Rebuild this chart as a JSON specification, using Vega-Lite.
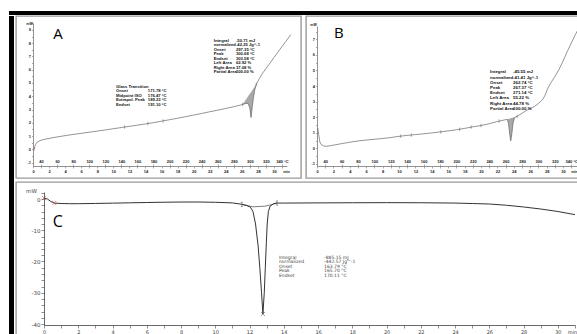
{
  "$schema": "https://vega.github.io/schema/vega-lite/v6.json",
  "padding": {"left": 9, "top": 11, "right": 0, "bottom": 0},
  "background": "white",
  "config": {
    "view": {"stroke": "#999", "strokeWidth": 1.4},
    "axis": {"grid": false, "labelFont": "Liberation Sans", "labelFontSize": 4, "labelFontWeight": "bold", "labelColor": "#222", "labelPadding": 1, "labelOverlap": false, "labelFlush": false, "labelAngle": 0, "tickSize": 2, "tickColor": "#777", "tickWidth": 0.6, "domainColor": "#777", "domainWidth": 0.8, "titleFont": "Liberation Sans", "titleFontSize": 3.8, "titleFontWeight": "bold", "titleColor": "#222", "titlePadding": 0}
  },
  "datasets": {
    "A_curve": [{"t":0.15,"v":0.02},{"t":0.3,"v":0.35},{"t":0.5,"v":0.52},{"t":0.8,"v":0.64},{"t":1.2,"v":0.72},{"t":2,"v":0.82},{"t":3,"v":0.93},{"t":4,"v":1.03},{"t":5,"v":1.12},{"t":6,"v":1.2},{"t":7,"v":1.29},{"t":8,"v":1.37},{"t":9,"v":1.46},{"t":10,"v":1.55},{"t":11,"v":1.64},{"t":12,"v":1.73},{"t":13,"v":1.82},{"t":14,"v":1.91},{"t":15,"v":2.01},{"t":16,"v":2.12},{"t":17,"v":2.23},{"t":18,"v":2.34},{"t":19,"v":2.46},{"t":20,"v":2.58},{"t":21,"v":2.7},{"t":22,"v":2.83},{"t":23,"v":2.95},{"t":24,"v":3.08},{"t":25,"v":3.21},{"t":26,"v":3.36},{"t":26.5,"v":3.46},{"t":26.8,"v":3.45},{"t":27.0,"v":3.1},{"t":27.15,"v":2.4},{"t":27.3,"v":3.2},{"t":27.45,"v":3.9},{"t":27.6,"v":4.45},{"t":27.8,"v":4.9},{"t":28.2,"v":5.35},{"t":28.6,"v":5.75},{"t":29,"v":6.08},{"t":29.5,"v":6.5},{"t":30,"v":6.92},{"t":30.5,"v":7.33},{"t":31,"v":7.75},{"t":31.5,"v":8.15},{"t":32.1,"v":8.65}],
    "A_peak": [{"t":26.1,"c":3.38,"b":3.38},{"t":26.5,"c":3.46,"b":3.74},{"t":26.8,"c":3.45,"b":4.01},{"t":27.0,"c":3.1,"b":4.18},{"t":27.15,"c":2.4,"b":4.32},{"t":27.3,"c":3.2,"b":4.45},{"t":27.45,"c":3.9,"b":4.59},{"t":27.6,"c":4.45,"b":4.72},{"t":27.8,"c":4.9,"b":4.9}],
    "A_marks": [{"t":0.15,"v":0.02,"k":"r"},{"t":11.4,"v":1.68,"k":"k"},{"t":14.3,"v":1.94,"k":"k"},{"t":16.2,"v":2.14,"k":"k"},{"t":26.1,"v":3.38,"k":"k"},{"t":27.8,"v":4.9,"k":"k"}],
    "A_text": [
      {"t":10.33,"v":4.85,"txt":"Glass Transition\nOnset\nMidpoint ISO\nExtrapol. Peak\nEndset"},
      {"t":14.3,"v":4.85,"txt":"\n171.78 °C\n176.47 °C\n189.23 °C\n191.10 °C"},
      {"t":22.5,"v":8.32,"txt":"Integral\n\u00a0\u00a0normalized\nOnset\nPeak\nEndset\nLeft Area\nRight Area\nPartial Area"},
      {"t":25.27,"v":8.32,"txt":"-50.71 mJ\n-42.25 Jg^-1\n297.35 °C\n300.68 °C\n303.58 °C\n62.92 %\n37.08 %\n100.00 %"}
    ],
    "B_curve": [{"t":0.1,"v":1.3},{"t":0.2,"v":0.9},{"t":0.35,"v":0.4},{"t":0.5,"v":0.25},{"t":0.8,"v":0.15},{"t":1.2,"v":0.13},{"t":2,"v":0.2},{"t":3,"v":0.3},{"t":4,"v":0.39},{"t":5,"v":0.47},{"t":6,"v":0.53},{"t":7,"v":0.58},{"t":8,"v":0.63},{"t":9,"v":0.69},{"t":10,"v":0.77},{"t":11,"v":0.83},{"t":12,"v":0.88},{"t":13,"v":0.93},{"t":14,"v":0.99},{"t":15,"v":1.05},{"t":16,"v":1.12},{"t":17,"v":1.19},{"t":18,"v":1.28},{"t":19,"v":1.38},{"t":20,"v":1.46},{"t":21,"v":1.58},{"t":22,"v":1.72},{"t":23,"v":1.84},{"t":23.2,"v":1.86},{"t":23.35,"v":1.6},{"t":23.5,"v":0.9},{"t":23.62,"v":0.47},{"t":23.75,"v":0.9},{"t":23.9,"v":1.6},{"t":24.1,"v":1.98},{"t":24.4,"v":2.05},{"t":25,"v":2.25},{"t":25.5,"v":2.42},{"t":26,"v":2.55},{"t":26.5,"v":2.68},{"t":27,"v":2.88},{"t":27.5,"v":3.12},{"t":27.8,"v":3.4},{"t":28.1,"v":3.8},{"t":28.5,"v":4.2},{"t":29,"v":4.6},{"t":29.5,"v":5.05},{"t":30,"v":5.6},{"t":30.5,"v":6.2},{"t":31,"v":6.75},{"t":31.5,"v":7.3},{"t":31.9,"v":7.7}],
    "B_peak": [{"t":23.2,"c":1.86,"b":1.86},{"t":23.35,"c":1.6,"b":1.884},{"t":23.5,"c":0.9,"b":1.907},{"t":23.62,"c":0.47,"b":1.926},{"t":23.75,"c":0.9,"b":1.947},{"t":23.9,"c":1.6,"b":1.971},{"t":24.1,"c":1.98,"b":2.0},{"t":24.4,"c":2.05,"b":2.05}],
    "B_marks": [{"t":10.2,"v":0.78,"k":"k"},{"t":11.5,"v":0.85,"k":"k"},{"t":15.1,"v":1.05,"k":"k"},{"t":17.4,"v":1.22,"k":"k"},{"t":18.8,"v":1.36,"k":"k"},{"t":20,"v":1.46,"k":"k"},{"t":22.2,"v":1.75,"k":"k"},{"t":24.4,"v":2.05,"k":"k"}],
    "B_text": [
      {"t":21.1,"v":5.0,"txt":"Integral\n\u00a0\u00a0normalized\nOnset\nPeak\nEndset\nLeft Area\nRight Area\nPartial Area"},
      {"t":23.9,"v":5.0,"txt":"-45.55 mJ\n-41.41 Jg^-1\n262.74 °C\n267.37 °C\n271.14 °C\n55.22 %\n44.78 %\n100.00 %"}
    ],
    "C_curve": [{"t":0,"v":0.3},{"t":0.2,"v":0.0},{"t":0.4,"v":-0.8},{"t":0.6,"v":-1.3},{"t":1,"v":-1.45},{"t":1.5,"v":-1.5},{"t":2,"v":-1.5},{"t":3,"v":-1.42},{"t":4,"v":-1.33},{"t":5,"v":-1.22},{"t":6,"v":-1.12},{"t":7,"v":-1.03},{"t":8,"v":-0.97},{"t":9,"v":-0.97},{"t":10,"v":-1.05},{"t":11,"v":-1.25},{"t":11.5,"v":-1.65},{"t":11.8,"v":-2.0},{"t":12.05,"v":-2.6},{"t":12.2,"v":-4},{"t":12.35,"v":-8},{"t":12.5,"v":-15},{"t":12.6,"v":-22},{"t":12.7,"v":-30},{"t":12.78,"v":-36.8},{"t":12.86,"v":-30},{"t":12.92,"v":-22},{"t":12.98,"v":-14},{"t":13.03,"v":-8},{"t":13.1,"v":-4},{"t":13.2,"v":-2.3},{"t":13.4,"v":-1.5},{"t":13.6,"v":-1.3},{"t":14,"v":-1.3},{"t":16,"v":-1.25},{"t":18,"v":-1.2},{"t":20,"v":-1.17},{"t":22,"v":-1.2},{"t":24,"v":-1.3},{"t":25,"v":-1.45},{"t":26,"v":-1.6},{"t":27,"v":-2.0},{"t":28,"v":-2.55},{"t":29,"v":-3.2},{"t":30,"v":-4.0},{"t":31,"v":-5.0}],
    "C_base": [{"t":11.55,"v":-1.75},{"t":12.2,"v":-2.5},{"t":12.9,"v":-2.3},{"t":13.3,"v":-1.8},{"t":13.6,"v":-1.3}],
    "C_marks": [{"t":0,"v":0.3,"k":"r","s":"x"},{"t":0.6,"v":-1.3,"k":"r","s":"x"},{"t":11.55,"v":-1.75,"k":"k","s":"I"},{"t":13.6,"v":-1.3,"k":"k","s":"I"},{"t":12.78,"v":-36.8,"k":"k","s":"x"}],
    "C_text": [
      {"t":13.72,"v":-17.8,"txt":"Integral\n\u00a0\u00a0normalized\nOnset\nPeak\nEndset"},
      {"t":16.35,"v":-17.8,"txt":"-885.15 mJ\n-442.57 Jg^-1\n163.79 °C\n165.70 °C\n170.11 °C"}
    ],
    "panel_labels_A": [{"t":3.11,"v":8.7,"txt":"A"}],
    "panel_labels_B": [{"t":2.65,"v":7.39,"txt":"B"}],
    "panel_labels_C": [{"t":0.8,"v":-7.36,"txt":"C"}]
  },
  "spacing": 0,
  "vconcat": [
    {"data": {"values": []}, "mark": "point", "width": 568, "height": 4, "view": {"fill": "black", "stroke": null}},
    {
      "spacing": 1,
      "hconcat": [
        {"data": {"values": []}, "mark": "point", "width": 5, "height": 319, "view": {"fill": "black", "stroke": null}},
        {
          "spacing": 2,
          "vconcat": [
            {
              "spacing": 5,
              "bounds": "flush",
              "hconcat": [
                {
                  "width": 285, "height": 162,
                  "resolve": {"axis": {"x": "independent", "y": "independent"}},
                  "layer": [
                    {"data": {"name": "A_peak"}, "mark": {"type": "area", "color": "#9a9a9a", "opacity": 0.85},
                     "encoding": {
                       "x": {"field": "t", "type": "quantitative", "scale": {"domain": [0, 31.6], "range": [17, 270.8], "nice": false, "zero": false}, "axis": null},
                       "y": {"field": "c", "type": "quantitative", "scale": {"domain": [-1.26, 9.5], "range": [150, 7.3], "nice": false, "zero": false}, "axis": null},
                       "y2": {"field": "b"}}},
                    {"data": {"name": "A_curve"}, "mark": {"type": "line", "color": "#666", "strokeWidth": 0.7},
                     "encoding": {
                       "x": {"field": "t", "type": "quantitative", "scale": {"domain": [0, 31.6], "range": [17, 270.8], "nice": false, "zero": false},
                             "axis": {"orient": "bottom", "offset": -12, "values": [0,1,2,3,4,5,6,7,8,9,10,11,12,13,14,15,16,17,18,19,20,21,22,23,24,25,26,27,28,29,30,31], "labelExpr": "datum.value % 2 == 0 ? '' + datum.value : ''", "title": "min", "titleX": 270, "titleY": 5, "titleAlign": "center", "titleBaseline": "middle", "titleAngle": 0}},
                       "y": {"field": "v", "type": "quantitative", "scale": {"domain": [-1.26, 9.5], "range": [150, 7.3], "nice": false, "zero": false},
                             "axis": {"orient": "left", "offset": -17, "values": [-1,-0.5,0,0.5,1,1.5,2,2.5,3,3.5,4,4.5,5,5.5,6,6.5,7,7.5,8,8.5,9,9.5], "labelExpr": "datum.value % 1 == 0 ? '' + datum.value : ''", "tickSize": 1.5, "title": "mW", "titleAngle": 0, "titleX": -4, "titleY": 7, "titleAlign": "center", "titleBaseline": "middle", "titleFontSize": 3.5}}}},
                    {"data": {"name": "A_marks"}, "mark": {"type": "point", "shape": "M0,-1L0,1", "size": 12, "filled": false, "strokeWidth": 0.7},
                     "encoding": {
                       "x": {"field": "t", "type": "quantitative", "scale": {"domain": [0, 31.6], "range": [17, 270.8], "nice": false, "zero": false},
                             "axis": {"orient": "top", "offset": -150, "domain": false, "values": [1,3,5,7,9,11,13,15,17,19,21,23,25,27,29,31], "labelExpr": "datum.value == 31 ? '340 °C' : '' + (datum.value * 10 + 30)", "title": null}},
                       "y": {"field": "v", "type": "quantitative", "scale": {"domain": [-1.26, 9.5], "range": [150, 7.3], "nice": false, "zero": false}, "axis": null},
                       "color": {"field": "k", "type": "nominal", "scale": {"domain": ["r", "k"], "range": ["#d04040", "#555"]}, "legend": null}}},
                    {"data": {"name": "A_text"}, "mark": {"type": "text", "align": "left", "baseline": "top", "font": "Liberation Sans", "fontSize": 4.2, "fontWeight": "bold", "lineBreak": "\n", "lineHeight": 4.5, "color": "#111"},
                     "encoding": {
                       "x": {"field": "t", "type": "quantitative", "scale": {"domain": [0, 31.6], "range": [17, 270.8], "nice": false, "zero": false}, "axis": null},
                       "y": {"field": "v", "type": "quantitative", "scale": {"domain": [-1.26, 9.5], "range": [150, 7.3], "nice": false, "zero": false}, "axis": null},
                       "text": {"field": "txt"}}},
                    {"data": {"name": "panel_labels_A"}, "mark": {"type": "text", "align": "center", "baseline": "middle", "font": "Open Sans", "fontSize": 15, "color": "#000"},
                     "encoding": {
                       "x": {"field": "t", "type": "quantitative", "scale": {"domain": [0, 31.6], "range": [17, 270.8], "nice": false, "zero": false}, "axis": null},
                       "y": {"field": "v", "type": "quantitative", "scale": {"domain": [-1.26, 9.5], "range": [150, 7.3], "nice": false, "zero": false}, "axis": null},
                       "text": {"field": "txt"}}}
                  ]
                },
                {
                  "width": 272, "height": 162,
                  "resolve": {"axis": {"x": "independent", "y": "independent"}},
                  "layer": [
                    {"data": {"name": "B_peak"}, "mark": {"type": "area", "color": "#9a9a9a", "opacity": 0.85},
                     "encoding": {
                       "x": {"field": "t", "type": "quantitative", "scale": {"domain": [0, 31.8], "range": [11, 271.8], "nice": false, "zero": false}, "axis": null},
                       "y": {"field": "c", "type": "quantitative", "scale": {"domain": [-1.137, 7.85], "range": [150, 10.1], "nice": false, "zero": false}, "axis": null},
                       "y2": {"field": "b"}}},
                    {"data": {"name": "B_curve"}, "mark": {"type": "line", "color": "#666", "strokeWidth": 0.7},
                     "encoding": {
                       "x": {"field": "t", "type": "quantitative", "scale": {"domain": [0, 31.8], "range": [11, 271.8], "nice": false, "zero": false},
                             "axis": {"orient": "bottom", "offset": -12, "values": [0,1,2,3,4,5,6,7,8,9,10,11,12,13,14,15,16,17,18,19,20,21,22,23,24,25,26,27,28,29,30,31], "labelExpr": "datum.value % 2 == 0 ? '' + datum.value : ''", "title": "min", "titleX": 268, "titleY": 5, "titleAlign": "center", "titleBaseline": "middle", "titleAngle": 0}},
                       "y": {"field": "v", "type": "quantitative", "scale": {"domain": [-1.137, 7.85], "range": [150, 10.1], "nice": false, "zero": false},
                             "axis": {"orient": "left", "offset": -11, "values": [-1,-0.5,0,0.5,1,1.5,2,2.5,3,3.5,4,4.5,5,5.5,6,6.5,7,7.5], "labelExpr": "datum.value % 1 == 0 ? '' + datum.value : ''", "tickSize": 1.5, "title": "mW", "titleAngle": 0, "titleX": -4, "titleY": 8, "titleAlign": "center", "titleBaseline": "middle", "titleFontSize": 3.5}}}},
                    {"data": {"name": "B_marks"}, "mark": {"type": "point", "shape": "M0,-1L0,1", "size": 12, "filled": false, "strokeWidth": 0.7},
                     "encoding": {
                       "x": {"field": "t", "type": "quantitative", "scale": {"domain": [0, 31.8], "range": [11, 271.8], "nice": false, "zero": false},
                             "axis": {"orient": "top", "offset": -150, "domain": false, "values": [1,3,5,7,9,11,13,15,17,19,21,23,25,27,29,31], "labelExpr": "datum.value == 31 ? '340 °C' : '' + (datum.value * 10 + 30)", "title": null}},
                       "y": {"field": "v", "type": "quantitative", "scale": {"domain": [-1.137, 7.85], "range": [150, 10.1], "nice": false, "zero": false}, "axis": null},
                       "color": {"field": "k", "type": "nominal", "scale": {"domain": ["r", "k"], "range": ["#d04040", "#555"]}, "legend": null}}},
                    {"data": {"name": "B_text"}, "mark": {"type": "text", "align": "left", "baseline": "top", "font": "Liberation Sans", "fontSize": 4.4, "fontWeight": "bold", "lineBreak": "\n", "lineHeight": 5.2, "color": "#111"},
                     "encoding": {
                       "x": {"field": "t", "type": "quantitative", "scale": {"domain": [0, 31.8], "range": [11, 271.8], "nice": false, "zero": false}, "axis": null},
                       "y": {"field": "v", "type": "quantitative", "scale": {"domain": [-1.137, 7.85], "range": [150, 10.1], "nice": false, "zero": false}, "axis": null},
                       "text": {"field": "txt"}}},
                    {"data": {"name": "panel_labels_B"}, "mark": {"type": "text", "align": "center", "baseline": "middle", "font": "Open Sans", "fontSize": 15, "color": "#000"},
                     "encoding": {
                       "x": {"field": "t", "type": "quantitative", "scale": {"domain": [0, 31.8], "range": [11, 271.8], "nice": false, "zero": false}, "axis": null},
                       "y": {"field": "v", "type": "quantitative", "scale": {"domain": [-1.137, 7.85], "range": [150, 10.1], "nice": false, "zero": false}, "axis": null},
                       "text": {"field": "txt"}}}
                  ]
                }
              ]
            },
            {
              "width": 562, "height": 153,
              "resolve": {"axis": {"x": "independent", "y": "independent"}},
              "layer": [
                {"data": {"name": "C_base"}, "mark": {"type": "line", "color": "#444", "strokeWidth": 0.7},
                 "encoding": {
                   "x": {"field": "t", "type": "quantitative", "scale": {"domain": [0, 31], "range": [28, 559], "nice": false, "zero": false}, "axis": null},
                   "y": {"field": "v", "type": "quantitative", "scale": {"domain": [-40.32, 2.24], "range": [143, 10], "nice": false, "zero": false}, "axis": null}}},
                {"data": {"name": "C_curve"}, "mark": {"type": "line", "color": "#333", "strokeWidth": 1},
                 "encoding": {
                   "x": {"field": "t", "type": "quantitative", "scale": {"domain": [0, 31], "range": [28, 559], "nice": false, "zero": false},
                         "axis": {"orient": "bottom", "offset": -10, "values": [0,1,2,3,4,5,6,7,8,9,10,11,12,13,14,15,16,17,18,19,20,21,22,23,24,25,26,27,28,29,30,31], "labelExpr": "datum.value % 2 == 0 ? '' + datum.value : ''", "labelFont": "DejaVu Sans", "labelFontSize": 5, "labelFontWeight": "normal", "labelColor": "#444", "tickSize": 3, "tickColor": "#444", "domainColor": "#444", "title": "min", "titleFont": "DejaVu Sans", "titleFontWeight": "normal", "titleFontSize": 5, "titleColor": "#444", "titleX": 556, "titleY": 6.5, "titleAlign": "center", "titleBaseline": "middle", "titleAngle": 0}},
                   "y": {"field": "v", "type": "quantitative", "scale": {"domain": [-40.32, 2.24], "range": [143, 10], "nice": false, "zero": false},
                         "axis": {"orient": "left", "offset": -28, "values": [-40,-38,-36,-34,-32,-30,-28,-26,-24,-22,-20,-18,-16,-14,-12,-10,-8,-6,-4,-2,0,2], "labelExpr": "datum.value % 10 == 0 ? '' + datum.value : ''", "labelFont": "DejaVu Sans", "labelFontSize": 5.5, "labelFontWeight": "normal", "labelColor": "#444", "tickSize": 3, "tickColor": "#444", "domainColor": "#444", "title": "mW", "titleFont": "DejaVu Sans", "titleFontWeight": "normal", "titleFontSize": 5.5, "titleColor": "#444", "titleAngle": 0, "titleX": -13, "titleY": 8, "titleAlign": "center", "titleBaseline": "middle"}}}},
                {"data": {"name": "C_marks"}, "mark": {"type": "point", "size": 18, "filled": false, "strokeWidth": 0.8},
                 "encoding": {
                   "x": {"field": "t", "type": "quantitative", "scale": {"domain": [0, 31], "range": [28, 559], "nice": false, "zero": false}, "axis": null},
                   "y": {"field": "v", "type": "quantitative", "scale": {"domain": [-40.32, 2.24], "range": [143, 10], "nice": false, "zero": false}, "axis": null},
                   "shape": {"field": "s", "type": "nominal", "scale": {"domain": ["x", "I"], "range": ["M-1,-1L1,1M-1,1L1,-1", "M0,-1L0,1M-0.5,-1L0.5,-1M-0.5,1L0.5,1"]}, "legend": null},
                   "color": {"field": "k", "type": "nominal", "scale": {"domain": ["r", "k"], "range": ["#d04040", "#222"]}, "legend": null}}},
                {"data": {"name": "C_text"}, "mark": {"type": "text", "align": "left", "baseline": "top", "font": "DejaVu Sans", "fontSize": 4.5, "lineBreak": "\n", "lineHeight": 4.6, "color": "#444"},
                 "encoding": {
                   "x": {"field": "t", "type": "quantitative", "scale": {"domain": [0, 31], "range": [28, 559], "nice": false, "zero": false}, "axis": null},
                   "y": {"field": "v", "type": "quantitative", "scale": {"domain": [-40.32, 2.24], "range": [143, 10], "nice": false, "zero": false}, "axis": null},
                   "text": {"field": "txt"}}},
                {"data": {"name": "panel_labels_C"}, "mark": {"type": "text", "align": "center", "baseline": "middle", "font": "Open Sans", "fontSize": 16, "color": "#000"},
                 "encoding": {
                   "x": {"field": "t", "type": "quantitative", "scale": {"domain": [0, 31], "range": [28, 559], "nice": false, "zero": false}, "axis": null},
                   "y": {"field": "v", "type": "quantitative", "scale": {"domain": [-40.32, 2.24], "range": [143, 10], "nice": false, "zero": false}, "axis": null},
                   "text": {"field": "txt"}}}
              ]
            }
          ]
        }
      ]
    }
  ]
}
